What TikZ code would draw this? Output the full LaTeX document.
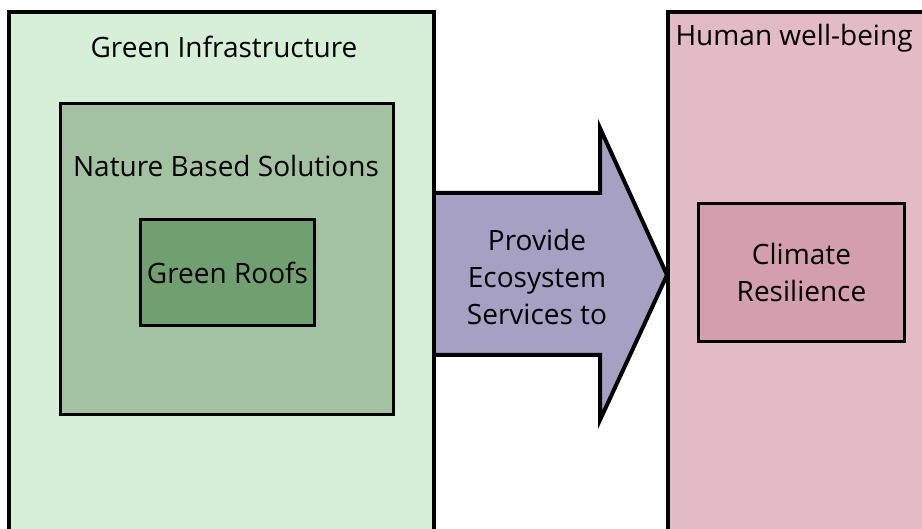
\documentclass[tikz,border=0pt]{standalone}
\usepackage{fontspec}
\setmainfont{Open Sans}
\usepackage{xcolor}
\definecolor{infraGreen}{RGB}{214, 239, 215}
\definecolor{nbsGreen}{RGB}{162, 194, 162}
\definecolor{roofGreen}{RGB}{112, 160, 112}
\definecolor{wellPink}{RGB}{226, 187, 198}
\definecolor{climatePink}{RGB}{212, 159, 172}
\definecolor{serviceLilac}{RGB}{166, 161, 195}

\begin{document}
\begin{tikzpicture}[x=1pt, y=-1pt]
            \tikzstyle{outer} = [draw=black, line width=4pt, anchor=north west, inner sep=0pt]
            \tikzstyle{inner} = [draw=black, line width=3pt, anchor=north west, inner sep=0pt]
            \tikzstyle{label} = [font=\fontsize{28}{37}\selectfont, align=center]
            \useasboundingbox (0,0) rectangle (922,529);
            \clip (0,0) rectangle (922,529);

            % Ecosystem services arrow
            \draw[line width=4pt, fill=serviceLilac, line join=miter]
                (432,193) -- (600,193) -- (600,128) -- (667,275) -- (600,420) -- (600,355) -- (432,355);
            \node[label] (services) at (537,277) {Provide\\Ecosystem\\Services to};

            % Green infrastructure side
            \node[outer, fill=infraGreen, minimum width=425, minimum height=560] (gi) at (7,10) {};
            \node[label] (gitext) at (224,47) {Green Infrastructure};
            \node[inner, fill=nbsGreen, minimum width=333, minimum height=311] (nbs) at (59,102) {};
            \node[label] (nbstext) at (226,166) {Nature Based Solutions};
            \node[inner, fill=roofGreen, minimum width=174, minimum height=106] (roofs) at (139,218) {};
            \node[label] at (roofs.center) {Green Roofs};

            % Human well-being side
            \node[outer, fill=wellPink, minimum width=300, minimum height=560] (hw) at (666,10) {};
            \node[label, anchor=west] (hwtext) at (672,38) {Human well-being};
            \node[inner, fill=climatePink, minimum width=206, minimum height=138] (climate) at (697,202) {};
            \node[label] at (climate.center) {Climate\\Resilience};
        \end{tikzpicture}
\end{document}
